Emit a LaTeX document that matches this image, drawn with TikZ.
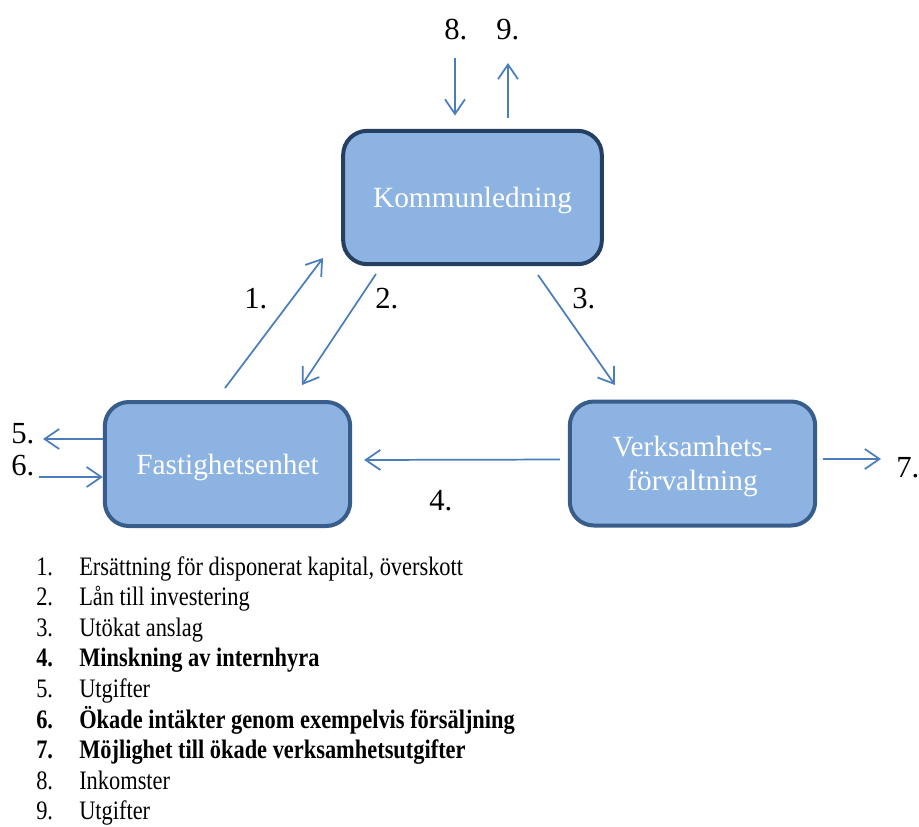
\documentclass[tikz,border=0pt]{standalone}
\usepackage{fontspec}
\setmainfont{Liberation Serif}
\newfontfamily\listfont[FakeStretch=0.84]{Liberation Serif}
\usepackage{tikz}
\usetikzlibrary{arrows.meta, positioning}
\definecolor{BoxFill}{RGB}{141, 179, 226}
\definecolor{TopBorder}{RGB}{36, 63, 96}
\definecolor{BoxBorder}{RGB}{56, 93, 138}
\definecolor{FlowBlue}{RGB}{74, 126, 187}

\begin{document}
\begin{tikzpicture}[
    x=0.75pt, y=-0.75pt,
    unit/.style={rectangle, draw=BoxBorder, line width=3pt, fill=BoxFill, rounded corners=18pt, minimum width=184pt, minimum height=93pt, align=center, text=white, text depth=0pt, font=\fontsize{22}{25.5}\selectfont},
    flow/.style={-{Straight Barb[length=11pt, width=15pt]}, draw=FlowBlue, line width=1.3pt},
    lbl/.style={anchor=base west, inner sep=0pt, font=\fontsize{23}{27}\selectfont},
    item/.style={anchor=base west, inner sep=0pt, font=\listfont\fontsize{20}{23}\selectfont}
]
    \useasboundingbox (0,0) rectangle (919,826);

    % Enheter
    \node[unit, draw=TopBorder, minimum width=194pt, minimum height=100pt] (komm) at (472.5,197.5) {Kommunledning};
    \node[unit] (fast) at (227.5,464) {Fastighetsenhet};
    \node[unit] (verk) at (692.5,463.5) {Verksamhets-\\förvaltning};

    % Fria ändar
    \coordinate (in8) at (455,58);
    \coordinate (out9) at (508,63);
    \coordinate (out5) at (43,439);
    \coordinate (in6) at (39,477);
    \coordinate (out7) at (881,459);
    \coordinate (s1) at (225,388);
    \coordinate (e1) at (323,258);
    \coordinate (s2) at (376,274);
    \coordinate (e2) at (302,385);
    \coordinate (s3) at (538,275);
    \coordinate (e3) at (615,385);

    % Flöden
    \draw[flow] (s1) -- (e1);
    \draw[flow] (s2) -- (e2);
    \draw[flow] (s3) -- (e3);
    \draw[flow, shorten <=6pt, shorten >=9pt] ([yshift=3pt]verk.west) -- ([yshift=3pt]fast.east);
    \draw[flow] (fast.west |- out5) -- (out5);
    \draw[flow] (in6) -- (in6 -| fast.west);
    \draw[flow, shorten <=4pt] (verk.east |- out7) -- (out7);
    \draw[flow, shorten >=10pt] (in8) -- (in8 |- komm.north);
    \draw[flow, shorten <=8pt] (out9 |- komm.north) -- (out9);

    % Nummer
    \node[lbl] (n8) at (444,39) {8.};
    \node[lbl] (n9) at (496,39) {9.};
    \node[lbl] (n1) at (244,308) {1.};
    \node[lbl] (n2) at (375,308) {2.};
    \node[lbl] (n3) at (572,308) {3.};
    \node[lbl] (n4) at (429,510) {4.};
    \node[lbl] (n5) at (11,443) {5.};
    \node[lbl] (n6) at (11,475) {6.};
    \node[lbl] (n7) at (896,477) {7.};

    % Förklaring
    \foreach \n/\f/\t in {1/\mdseries/{Ersättning för disponerat kapital, överskott},
                          2/\mdseries/{Lån till investering},
                          3/\mdseries/{Utökat anslag},
                          4/\bfseries/{Minskning av internhyra},
                          5/\mdseries/{Utgifter},
                          6/\bfseries/{Ökade intäkter genom exempelvis försäljning},
                          7/\bfseries/{Möjlighet till ökade verksamhetsutgifter},
                          8/\mdseries/{Inkomster},
                          9/\mdseries/{Utgifter}} {
        \node[item] (num\n) at (36,{575+30.6*(\n-1)}) {\f\n.};
        \node[item] (item\n) at (79,{575+30.6*(\n-1)}) {\f\t};
    }
\end{tikzpicture}
\end{document}
